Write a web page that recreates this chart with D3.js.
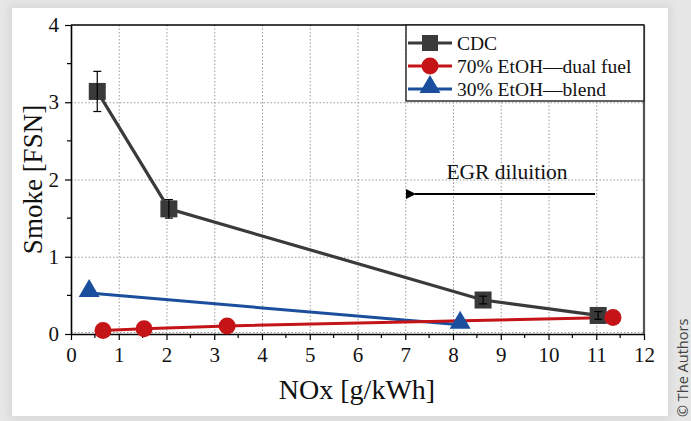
<!DOCTYPE html>
<html>
<head>
<meta charset="utf-8">
<script src="https://cdn.jsdelivr.net/npm/d3@7"></script>
<style>
  html, body { margin: 0; padding: 0; }
  body { width: 691px; height: 421px; background: #e6e6e6; position: relative; overflow: hidden; }
  #card { position: absolute; left: 12px; top: 8px; width: 656px; height: 408px; background: #fff;
          box-shadow: 0 0 8px 3px rgba(0,0,0,0.06); }
  svg { position: absolute; left: 0; top: 0; }
</style>
</head>
<body>
<div id="card"></div>
<svg id="chart" width="691" height="421"></svg>
<script>
// Smoke vs NOx trade-off under EGR dilution
const cdcNox   = [0.55, 2.05, 8.63, 11.04];
const cdcSmoke = [3.14, 1.62, 0.44, 0.24];
const cdcErr   = [0.26, 0.12, 0.05, 0.05];

const dualNox   = [0.67, 1.53, 3.27, 11.35];
const dualSmoke = [0.045, 0.068, 0.105, 0.215];

const blendNox   = [0.38, 8.15];
const blendSmoke = [0.53, 0.12];

const xTicks = [0, 1, 2, 3, 4, 5, 6, 7, 8, 9, 10, 11, 12];
const yTicks = [0, 1, 2, 3, 4];
const seriesNames = ["CDC", "70% EtOH\u2014dual fuel", "30% EtOH\u2014blend"];

const colors = { cdc: "#3a3a3a", dual: "#c41418", blend: "#1b4f9e" };
const serif = "'Liberation Serif', 'Times New Roman', serif";

const svg = d3.select("#chart");
const L = 71, R = 644, T = 25, B = 334;
const x = d3.scaleLinear().domain([0, 12]).range([L, R]);
const y = d3.scaleLinear().domain([0, 4]).range([B, T]);

// dotted grid
const grid = svg.append("g").attr("stroke", "#9a9a9a").attr("stroke-width", 1).attr("stroke-dasharray", "1.5,2");
grid.selectAll(".gx").data(xTicks.slice(1, -1)).join("line")
  .attr("x1", d => x(d) + 0.5).attr("x2", d => x(d) + 0.5).attr("y1", T).attr("y2", B);
grid.selectAll(".gy").data(yTicks.slice(0, -1)).join("line")
  .attr("x1", L).attr("x2", R).attr("y1", d => y(d) - (d === 0 ? 2 : 0) + 0.5).attr("y2", d => y(d) - (d === 0 ? 2 : 0) + 0.5);

// axes
const xAxis = d3.axisBottom(x).tickValues(xTicks).tickFormat(d3.format("d")).tickSize(6).tickSizeOuter(0).tickPadding(7);
const yAxis = d3.axisLeft(y).tickValues(yTicks).tickFormat(d3.format("d")).tickSize(6).tickSizeOuter(0).tickPadding(6);
const gx = svg.append("g").attr("transform", `translate(0,${B})`).call(xAxis);
const gy = svg.append("g").attr("transform", `translate(${L},0)`).call(yAxis);
[gx, gy].forEach(g => {
  g.attr("font-family", serif).attr("font-size", 21);
  g.select(".domain").attr("stroke", "#000").attr("stroke-width", 1.6);
  g.selectAll(".tick line").attr("stroke", "#000").attr("stroke-width", 1.2);
  g.selectAll(".tick text").attr("fill", "#111");
});
// minor ticks
const xMinor = d3.range(0.5, 12, 1);
const yMinor = d3.range(0.5, 4, 1);
svg.append("g").selectAll("line").data(xMinor).join("line")
  .attr("x1", d => x(d)).attr("x2", d => x(d)).attr("y1", B).attr("y2", B + 4)
  .attr("stroke", "#000").attr("stroke-width", 1.2);
svg.append("g").selectAll("line").data(yMinor).join("line")
  .attr("x1", L - 4).attr("x2", L).attr("y1", d => y(d)).attr("y2", d => y(d))
  .attr("stroke", "#000").attr("stroke-width", 1.2);

// frame top/right
svg.append("line").attr("x1", L).attr("x2", R).attr("y1", T).attr("y2", T).attr("stroke", "#000").attr("stroke-width", 1.6);
svg.append("line").attr("x1", R).attr("x2", R).attr("y1", T).attr("y2", B).attr("stroke", "#555").attr("stroke-width", 2.2);

// axis titles
svg.append("text").attr("x", 357).attr("y", 399).attr("text-anchor", "middle")
  .attr("font-family", serif).attr("font-size", 28).attr("fill", "#111").text("NOx [g/kWh]");
svg.append("text").attr("transform", `translate(42,${(T + B) / 2}) rotate(-90)`).attr("text-anchor", "middle")
  .attr("font-family", serif).attr("font-size", 27).attr("fill", "#111").text("Smoke [FSN]");

// series lines
const line = d3.line().x(d => x(d[0])).y(d => y(d[1]));
const zip = (a, b) => a.map((v, i) => [v, b[i]]);
const cdc = zip(cdcNox, cdcSmoke), dual = zip(dualNox, dualSmoke), blend = zip(blendNox, blendSmoke);

svg.append("path").datum(blend).attr("d", line).attr("fill", "none").attr("stroke", colors.blend).attr("stroke-width", 3);
svg.append("path").datum(cdc).attr("d", line).attr("fill", "none").attr("stroke", colors.cdc).attr("stroke-width", 3.2);
svg.append("path").datum(dual).attr("d", line).attr("fill", "none").attr("stroke", colors.dual).attr("stroke-width", 3);

// CDC markers with error bars
const sq = 17;
svg.append("g").selectAll("rect").data(cdc).join("rect")
  .attr("x", d => x(d[0]) - sq / 2).attr("y", d => y(d[1]) - sq / 2)
  .attr("width", sq).attr("height", sq).attr("fill", colors.cdc);
const eb = svg.append("g").attr("stroke", "#000").attr("stroke-width", 1.2);
cdc.forEach((d, i) => {
  const cx = x(d[0]), y0 = y(d[1] + cdcErr[i]), y1 = y(d[1] - cdcErr[i]);
  eb.append("line").attr("x1", cx).attr("x2", cx).attr("y1", y0).attr("y2", y1);
  eb.append("line").attr("x1", cx - 4).attr("x2", cx + 4).attr("y1", y0).attr("y2", y0);
  eb.append("line").attr("x1", cx - 4).attr("x2", cx + 4).attr("y1", y1).attr("y2", y1);
});

// dual-fuel circles
svg.append("g").selectAll("circle").data(dual).join("circle")
  .attr("cx", d => x(d[0])).attr("cy", d => y(d[1])).attr("r", 8.5).attr("fill", colors.dual);

// blend triangles
const tri = d3.symbol().type(d3.symbolTriangle).size(190);
svg.append("g").selectAll("path").data(blend).join("path")
  .attr("transform", d => `translate(${x(d[0])},${y(d[1]) - 2})`).attr("d", tri).attr("fill", colors.blend);

// legend
const lg = svg.append("g");
lg.append("rect").attr("x", 406).attr("y", T).attr("width", R - 406).attr("height", 76)
  .attr("fill", "#fff").attr("stroke", "#222").attr("stroke-width", 1.4);
const legendRows = [
  { name: seriesNames[0], color: colors.cdc, shape: "sq" },
  { name: seriesNames[1], color: colors.dual, shape: "ci" },
  { name: seriesNames[2], color: colors.blend, shape: "tr" }
];
legendRows.forEach((r, i) => {
  const ly = 43 + i * 23;
  lg.append("line").attr("x1", 408).attr("x2", 452).attr("y1", ly).attr("y2", ly)
    .attr("stroke", r.color).attr("stroke-width", 3.2);
  if (r.shape === "sq") lg.append("rect").attr("x", 422).attr("y", ly - 8).attr("width", 16).attr("height", 16).attr("fill", r.color);
  if (r.shape === "ci") lg.append("circle").attr("cx", 430).attr("cy", ly).attr("r", 8.5).attr("fill", r.color);
  if (r.shape === "tr") lg.append("path").attr("transform", `translate(430,${ly - 2})`).attr("d", tri).attr("fill", r.color);
  lg.append("text").attr("x", 457).attr("y", ly + 6.5).attr("font-family", serif).attr("font-size", 19.5)
    .attr("fill", "#111").text(r.name);
});

// EGR dilution annotation
svg.append("text").attr("x", 507).attr("y", 179).attr("text-anchor", "middle")
  .attr("font-family", serif).attr("font-size", 21.5).attr("fill", "#111").text("EGR diluition");
svg.append("defs").append("marker").attr("id", "ah").attr("viewBox", "0 0 10 10").attr("refX", 1).attr("refY", 5)
  .attr("markerWidth", 6.5).attr("markerHeight", 5).attr("orient", "auto-start-reverse")
  .append("path").attr("d", "M10,0 L0,5 L10,10 z").attr("fill", "#000");
svg.append("line").attr("x1", 595).attr("x2", 415).attr("y1", 194).attr("y2", 194)
  .attr("stroke", "#000").attr("stroke-width", 2).attr("marker-end", "url(#ah)");

// credit
svg.append("text").attr("transform", "translate(688,417) rotate(-90)")
  .attr("font-family", "'Open Sans', 'DejaVu Sans', sans-serif").attr("font-size", 14.5).attr("fill", "#444").text("\u00a9 The Authors");
</script>
</body>
</html>
